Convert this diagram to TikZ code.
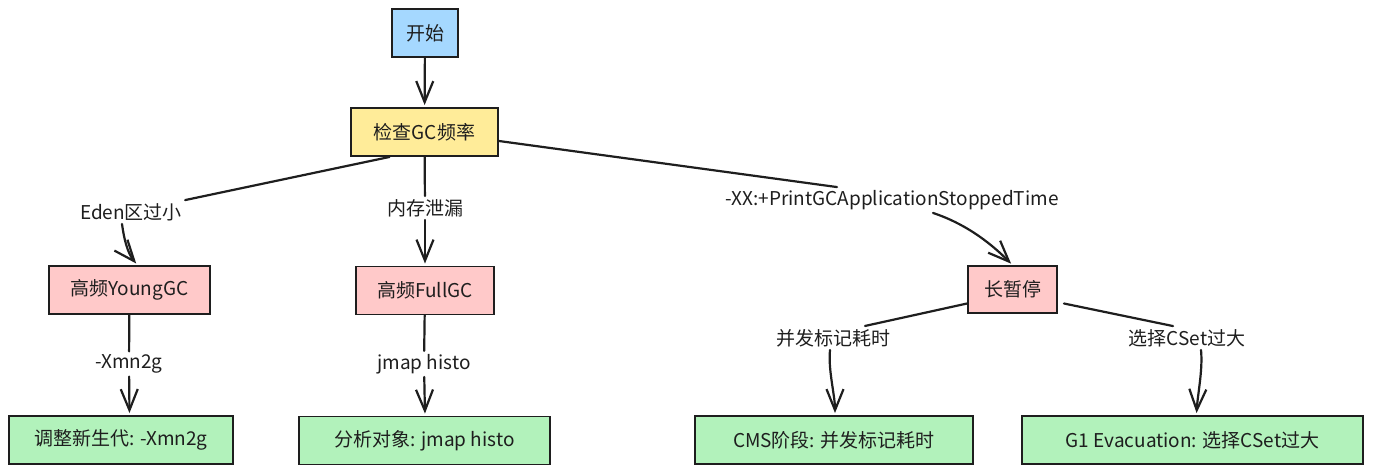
\documentclass[tikz,border=0pt]{standalone}
\usepackage{fontspec}
\setmainfont{Noto Sans CJK SC}
\usetikzlibrary{arrows.meta}
\definecolor{ink}{HTML}{1E1E1E}
\definecolor{cblue}{HTML}{A5D8FF}
\definecolor{cyellow}{HTML}{FFEC99}
\definecolor{cpink}{HTML}{FFC9C9}
\definecolor{cgreen}{HTML}{B2F2BB}
\tikzset{
  box/.style={draw=ink, line width=1.9pt, minimum height=48pt, inner sep=0pt, text=ink},
  lbl/.style={inner sep=3pt, text=ink},
  ln/.style={draw=ink, line width=2.2pt, line cap=round, line join=round},
  arr/.style={ln, shorten >=2pt, -{Straight Barb[length=21pt,width=17pt,line width=2.2pt]}}
}
\begin{document}
\begin{tikzpicture}[x=1pt,y=-1pt,font=\fontsize{19}{22}\selectfont]
\useasboundingbox[fill=white] (0,0) rectangle (1373,474);
% nodes
\node[box, fill=cblue, minimum width=66pt] (start) at (425,33) {开始};
\node[box, fill=cyellow, minimum width=147pt] (check) at (424.5,132) {检查GC频率};
\node[box, fill=cpink, minimum width=161pt] (young) at (129.5,290) {高频YoungGC};
\node[box, fill=cpink, minimum width=138pt] (full) at (425,290.5) {高频FullGC};
\node[box, fill=cpink, minimum width=89pt, minimum height=47pt] (pause) at (1012.5,289.5) {长暂停};
\node[box, fill=cgreen, minimum width=224pt] (adjust) at (121,440) {调整新生代: -Xmn2g};
\node[box, fill=cgreen, minimum width=251pt] (analyze) at (424.5,440.5) {分析对象: jmap histo};
\node[box, fill=cgreen, minimum width=278pt] (cms) at (834,440) {CMS阶段: 并发标记耗时};
\node[box, fill=cgreen, minimum width=341pt] (g1) at (1192.5,440) {G1 Evacuation: 选择CSet过大};
% labels
\node[lbl] (lEden) at (131,212) {Eden区过小};
\node[lbl] (lLeak) at (425,208) {内存泄漏};
\node[lbl] (lPrint) at (892,200) {-XX:+PrintGCApplicationStoppedTime};
\node[lbl] (lXmn) at (129,364) {-Xmn2g};
\node[lbl] (lJmap) at (424,364) {jmap histo};
\node[lbl] (lCMS) at (833,338) {并发标记耗时};
\node[lbl] (lCSet) at (1187,338) {选择CSet过大};
% edges
\draw[arr] (start) -- (check);
\draw[ln] ([xshift=-35pt]check.south) -- (lEden.north east);
\draw[arr] ([xshift=-9pt]lEden.south) .. controls +(2,15) and +(-10,-12) .. ([xshift=8pt]young.north);
\draw[ln] (check) -- (lLeak);
\draw[arr] (lLeak) -- (full);
\draw[ln] ([yshift=-9pt]check.east) -- ([xshift=-55pt]lPrint.north);
\draw[arr] ([xshift=41pt]lPrint.south) .. controls +(30,10) and +(-25,-25) .. (pause.north);
\draw[ln] (young) -- (lXmn);
\draw[arr] (lXmn) -- (young.south |- adjust.north);
\draw[ln] (full) -- (lJmap);
\draw[arr] (lJmap) -- (full.south |- analyze.north);
\draw[ln] ([yshift=-14pt]pause.west) -- ([xshift=32pt]lCMS.north);
\draw[arr] ([xshift=-3pt]lCMS.south) .. controls +(-2,20) and +(0,-20) .. ([xshift=1pt]cms.north);
\draw[ln] ([yshift=-14pt,xshift=6pt]pause.east) -- ([xshift=-14pt]lCSet.north);
\draw[arr] ([xshift=14pt]lCSet.south) .. controls +(2,20) and +(1,-20) .. ([xshift=4pt]g1.north);
\end{tikzpicture}
\end{document}
